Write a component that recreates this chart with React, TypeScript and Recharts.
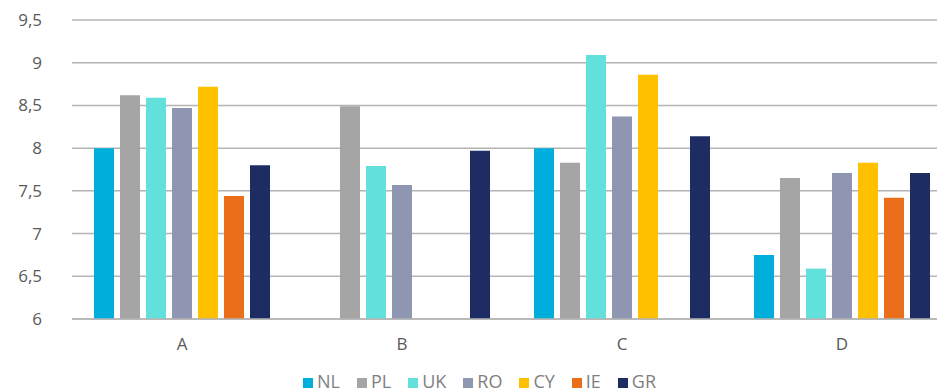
import React from 'react';
import { BarChart, Bar, XAxis, YAxis, CartesianGrid, Legend } from 'recharts';

const categories = ['A', 'B', 'C', 'D'];

// null = no value for that country/category
const nl = [8.0, null, 8.0, 6.75];
const pl = [8.62, 8.49, 7.83, 7.65];
const uk = [8.59, 7.79, 9.09, 6.59];
const ro = [8.47, 7.57, 8.37, 7.71];
const cy = [8.72, null, 8.86, 7.83];
const ie = [7.44, null, null, 7.42];
const gr = [7.8, 7.97, 8.14, 7.71];

const yTicks = [6, 6.5, 7, 7.5, 8, 8.5, 9, 9.5];

const series = [
  { key: 'NL', values: nl, color: '#00aedb' },
  { key: 'PL', values: pl, color: '#a5a5a5' },
  { key: 'UK', values: uk, color: '#61e0dc' },
  { key: 'RO', values: ro, color: '#8e96b2' },
  { key: 'CY', values: cy, color: '#ffc000' },
  { key: 'IE', values: ie, color: '#eb6e1a' },
  { key: 'GR', values: gr, color: '#1e2c64' },
];

const data = categories.map((name, i) => {
  const row: Record<string, string | number | null> = { name };
  series.forEach((s) => {
    row[s.key] = s.values[i];
  });
  return row;
});

const fontFamily = '"Open Sans", "Noto Sans", sans-serif';

const App: React.FC = () => {
  return (
    <div
      style={{
        position: 'absolute',
        left: 0,
        top: 0,
        width: 937,
        height: 392,
        overflow: 'hidden',
        background: '#fff',
      }}
    >
      <BarChart
        width={968}
        height={392}
        data={data}
        margin={{ top: 20, right: 16, left: 0, bottom: 0 }}
        barSize={20}
        barGap={6}
      >
        <CartesianGrid vertical={false} stroke="#b4b4b4" strokeWidth={1.5} />
        <XAxis
          dataKey="name"
          axisLine={{ stroke: '#b4b4b4', strokeWidth: 1.5 }}
          tickLine={false}
          tick={{ fill: '#595959', fontSize: 17, fontFamily }}
          tickMargin={13}
          height={51}
        />
        <YAxis
          domain={[6, 9.5]}
          ticks={yTicks}
          axisLine={false}
          tickLine={false}
          tickSize={0}
          tickMargin={30}
          width={72}
          tick={{ fill: '#595959', fontSize: 17, fontFamily }}
          tickFormatter={(v: number) => String(v).replace('.', ',')}
        />
        <Legend
          verticalAlign="bottom"
          iconType="square"
          iconSize={10}
          itemSorter={null}
          wrapperStyle={{ fontFamily, fontSize: 18, lineHeight: '22px', left: 12 }}
          formatter={(value: string) => (
            <span style={{ color: '#7f7f7f', fontSize: 18, fontFamily, marginRight: 7 }}>{value}</span>
          )}
        />
        {series.map((s) => (
          <Bar key={s.key} dataKey={s.key} fill={s.color} isAnimationActive={false} />
        ))}
      </BarChart>
    </div>
  );
};

export default App;
